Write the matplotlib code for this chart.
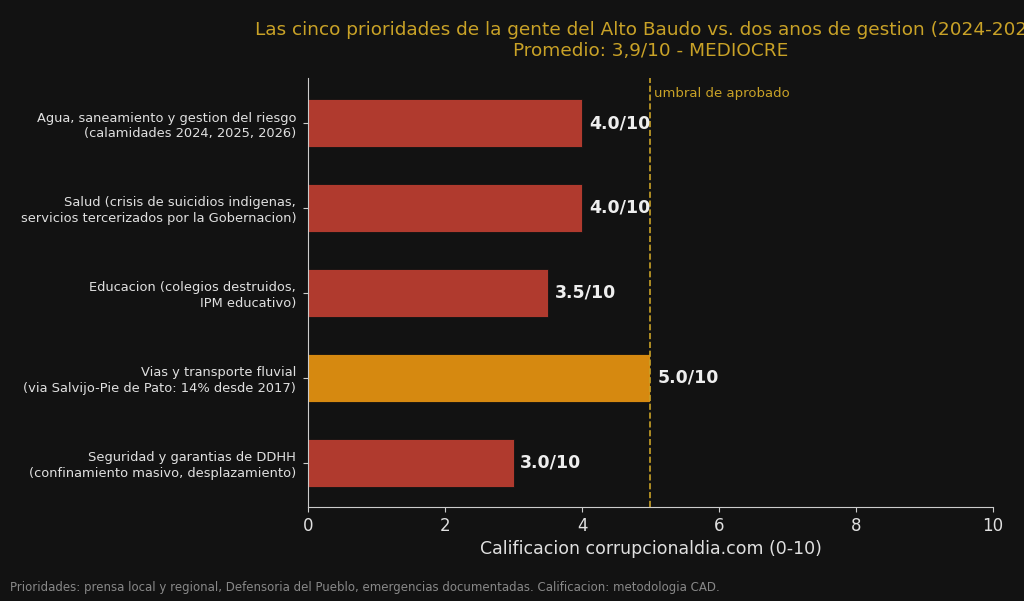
import matplotlib
matplotlib.use("Agg")
import matplotlib.pyplot as plt

categories = [
    "Agua, saneamiento y gestion del riesgo\n(calamidades 2024, 2025, 2026)",
    "Salud (crisis de suicidios indigenas,\nservicios tercerizados por la Gobernacion)",
    "Educacion (colegios destruidos,\nIPM educativo)",
    "Vias y transporte fluvial\n(via Salvijo-Pie de Pato: 14% desde 2017)",
    "Seguridad y garantias de DDHH\n(confinamiento masivo, desplazamiento)",
]
scores = [4.0, 4.0, 3.5, 5.0, 3.0]
threshold = 5.0
xticks = [0, 2, 4, 6, 8, 10]

BG = "#121212"
RED = "#b03a2e"
ORANGE = "#d68910"
GOLD = "#c9a227"
TXT = "#e0e0e0"

fig = plt.figure(figsize=(10.24, 6.01), dpi=100, facecolor=BG)
ax = fig.add_axes([0.3008, 0.1564, 0.6689, 0.7138])
ax.set_facecolor(BG)

ypos = list(range(len(categories)))
colors = [ORANGE if s >= threshold else RED for s in scores]
ax.barh(ypos, scores, height=0.57, color=colors, edgecolor=BG, linewidth=0.6)
ax.set_ylim(4.52, -0.53)
ax.set_xlim(0, 10)
ax.set_yticks(ypos)
ax.set_yticklabels(categories, fontsize=9.35, color=TXT, linespacing=1.25)
ax.set_xticks(xticks)
ax.set_xticklabels([str(t) for t in xticks], fontsize=12, color=TXT)
ax.tick_params(axis="x", colors="#cccccc", labelcolor=TXT)
ax.tick_params(axis="y", colors="#cccccc", labelcolor=TXT, pad=5)

for y, s in zip(ypos, scores):
    ax.text(s + 0.1, y, f"{s:.1f}/10", va="center", ha="left",
            fontsize=12.5, fontweight="bold", color="#eeeeee")

ax.axvline(threshold, color=GOLD, linestyle="--", linewidth=1.2)
ax.text(threshold + 0.05, -0.35, "umbral de aprobado", color=GOLD,
        fontsize=9.5, ha="left", va="center")

for side in ["top", "right"]:
    ax.spines[side].set_visible(False)
for side in ["left", "bottom"]:
    ax.spines[side].set_color("#cccccc")

ax.set_xlabel("Calificacion corrupcionaldia.com (0-10)", fontsize=12.5, color=TXT)
ax.set_title("Las cinco prioridades de la gente del Alto Baudo vs. dos anos de gestion (2024-2026)\n"
             "Promedio: 3,9/10 - MEDIOCRE", fontsize=13.3, color=GOLD, pad=16)

fig.text(0.01, 0.012, "Prioridades: prensa local y regional, Defensoria del Pueblo, emergencias "
         "documentadas. Calificacion: metodologia CAD.", fontsize=8.5, color="#888888",
         ha="left", va="bottom")

fig.savefig("out.png", dpi=100, facecolor=BG)
